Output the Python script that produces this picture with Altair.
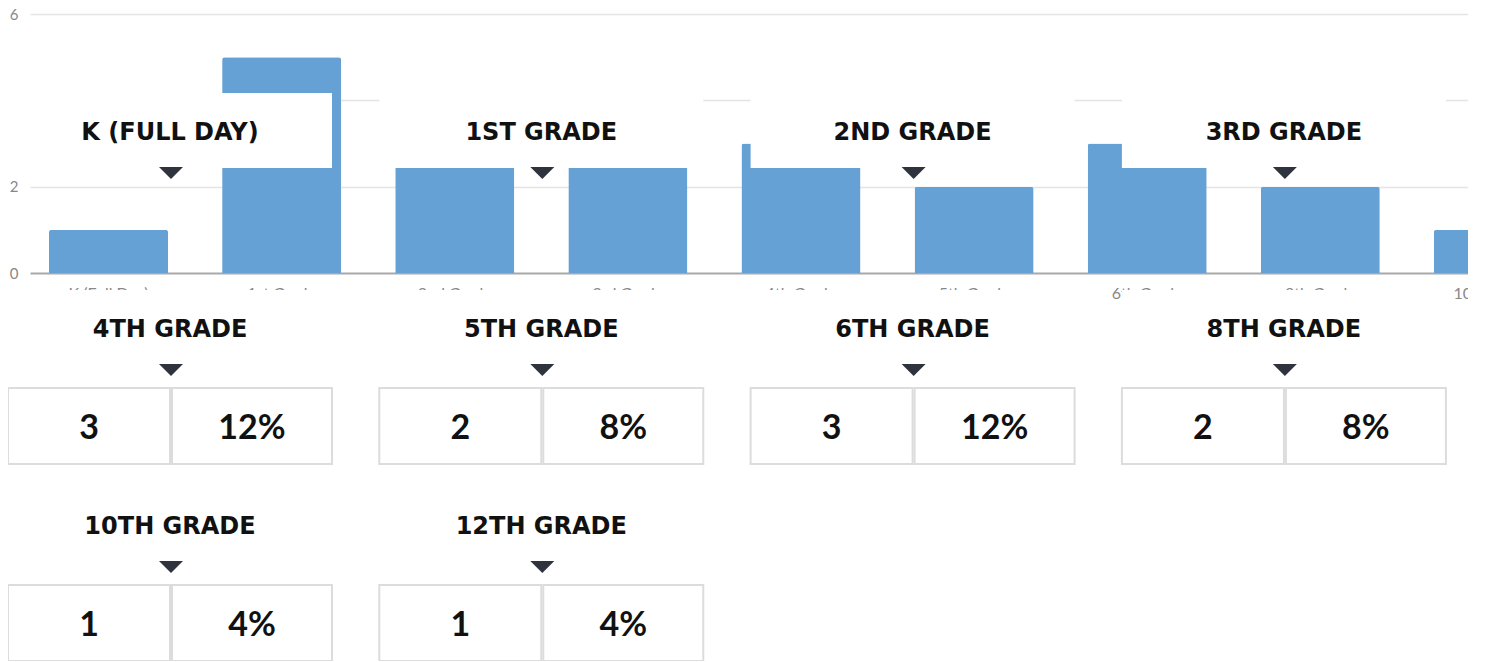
import altair as alt
import pandas as pd

grades = ["K (Full Day)", "1st Grade", "2nd Grade", "3rd Grade", "4th Grade",
          "5th Grade", "6th Grade", "8th Grade", "10th Grade", "12th Grade"]
counts = [1, 5, 4, 3, 3, 2, 3, 2, 1, 1]
percents = ["4%", "20%", "16%", "12%", "12%", "8%", "12%", "8%", "4%", "4%"]
y_ticks = [0, 2, 4, 6]

df = pd.DataFrame({
    "grade": grades,
    "count": counts,
    "count_label": [str(c) for c in counts],
    "pct": percents,
    "header": [g.upper() for g in grades],
    "col": [i % 4 for i in range(len(grades))],
    "row": [i // 4 for i in range(len(grades))],
})

BAR = "#66a1d6"
FONT = "Lato"
HFONT = "DejaVu Sans"
INK = "#111111"

bars = alt.Chart(df).mark_bar(
    fill=BAR, cornerRadiusTopLeft=2.5, cornerRadiusTopRight=2.5
).encode(
    x=alt.X("grade:N", sort=grades, title=None,
            scale=alt.Scale(range=[0, 1715], paddingInner=0.3125, paddingOuter=0.1098),
            axis=alt.Axis(labelAngle=0, domain=False, ticks=False,
                          labelPadding=12, labelFont=FONT, labelFontSize=16,
                          labelColor="#888888", grid=False)),
    y=alt.Y("count:Q", title=None, scale=alt.Scale(domain=[0, 6], nice=False),
            axis=alt.Axis(values=y_ticks, domain=False, ticks=False,
                          labelPadding=12, labelFont=FONT, labelFontSize=15,
                          labelColor="#888888",
                          gridColor=alt.condition("datum.value === 0", alt.value("#a8a8a8"), alt.value("#e4e4e4")),
                          gridWidth=alt.condition("datum.value === 0", alt.value(2), alt.value(1.5)))),
)

cx = alt.X("col:Q", scale=alt.Scale(domain=[0, 4], range=[-22, 1463.2], nice=False, zero=False), axis=None)
cy = alt.Y("row:Q", scale=alt.Scale(domain=[0, 2], range=[126, 520], nice=False, zero=False), axis=None)

card_bg = alt.Chart(df).mark_rect(
    color="white", xOffset=0, x2Offset=324, yOffset=-47, y2Offset=28
).encode(x=cx, x2="col:Q", y=cy, y2="row:Q")

tri = alt.Chart(df).mark_point(
    shape="M-1,-0.5L1,-0.5L0,0.5Z", filled=True, color="#2f333e", opacity=1,
    size=576, strokeWidth=0, xOffset=163, yOffset=33
).encode(x=cx, y=cy)

hdr = alt.Chart(df).mark_text(
    font=HFONT, fontWeight="bold", fontSize=24, color=INK, align="center",
    baseline="alphabetic", xOffset=162
).encode(x=cx, y=cy, text="header:N")

box_l = alt.Chart(df).transform_filter("datum.row >= 1").mark_rect(
    fill="white", stroke="#dcdcdc", strokeWidth=2,
    xOffset=0, x2Offset=162, yOffset=51, y2Offset=127
).encode(x=cx, x2="col:Q", y=cy, y2="row:Q")

box_r = alt.Chart(df).transform_filter("datum.row >= 1").mark_rect(
    fill="white", stroke="#dcdcdc", strokeWidth=2,
    xOffset=164, x2Offset=324, yOffset=51, y2Offset=127
).encode(x=cx, x2="col:Q", y=cy, y2="row:Q")

val_l = alt.Chart(df).transform_filter("datum.row >= 1").mark_text(
    font=FONT, fontWeight="bold", fontSize=34, color=INK, align="center",
    baseline="alphabetic", xOffset=81, yOffset=102
).encode(x=cx, y=cy, text="count_label:N")

val_r = alt.Chart(df).transform_filter("datum.row >= 1").mark_text(
    font=FONT, fontWeight="bold", fontSize=34, color=INK, align="center",
    baseline="alphabetic", xOffset=244, yOffset=102
).encode(x=cx, y=cy, text="pct:N")

chart = alt.layer(
    bars, card_bg, tri, hdr, box_l, box_r, val_l, val_r
).resolve_scale(
    x="independent", y="independent"
).properties(
    width=1438, height=259,
    background="white",
    autosize=alt.AutoSizeParams(type="none"),
    padding={"left": 22, "top": 6, "right": 0, "bottom": 388},
).configure_view(stroke=None)

chart.save("out.html", embed_options={"renderer": "svg", "actions": False})
